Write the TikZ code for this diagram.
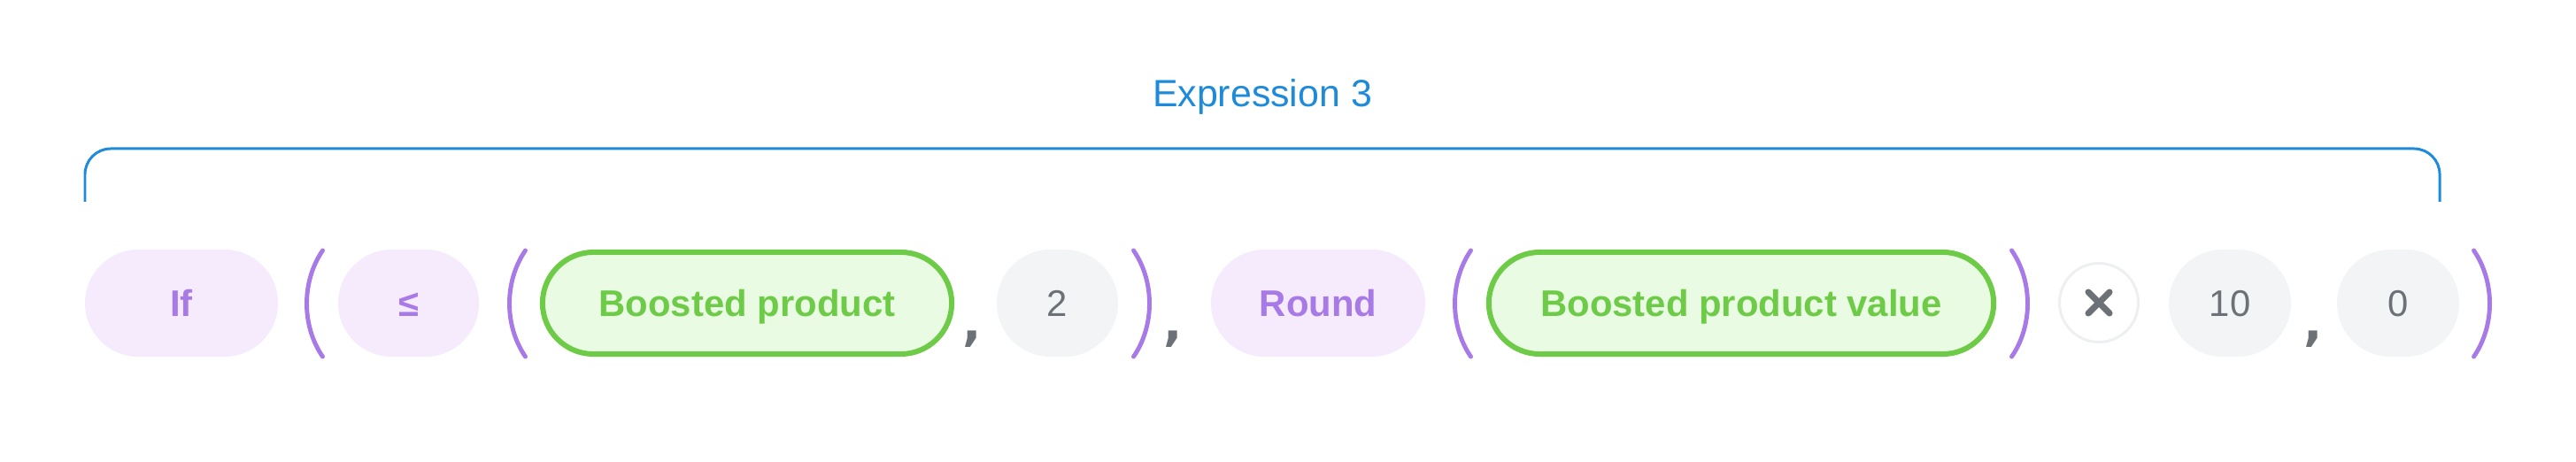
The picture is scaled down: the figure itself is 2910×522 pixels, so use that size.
\documentclass[tikz,border=0pt]{standalone}
\usepackage{fontspec}
\setmainfont{Liberation Sans}
\newfontfamily\commafont{DejaVu Sans}
\usepackage{tikz}
\definecolor{exprblue}{HTML}{1E8BDA}
\definecolor{fnpurple}{HTML}{A87AE8}
\definecolor{fnfill}{HTML}{F5EBFD}
\definecolor{fieldgreen}{HTML}{6DCB47}
\definecolor{fieldfill}{HTML}{E9FBE3}
\definecolor{numfill}{HTML}{F3F4F6}
\definecolor{numgrey}{HTML}{6C7177}
\definecolor{ringgrey}{HTML}{EEEFF1}
\newcommand{\tokfont}{\fontsize{11.9}{14}\selectfont}
\tikzset{
	token/.style={rectangle, inner sep=0pt, minimum height=1.21cm, rounded corners=0.605cm, text height=8.5pt, text depth=0pt},
	fntok/.style={token, fill=fnfill, text=fnpurple, font=\tokfont\bfseries},
	fieldtok/.style={token, draw=fieldgreen, line width=1.7pt, fill=fieldfill, text=fieldgreen, minimum height=1.15cm, rounded corners=0.575cm, font=\tokfont\bfseries},
	numtok/.style={token, fill=numfill, text=numgrey, font=\tokfont},
	optok/.style={circle, inner sep=0pt, draw=ringgrey, line width=0.85pt, fill=white, minimum size=0.89cm},
	paren/.style={fnpurple, line width=1.4pt, line cap=round},
	sep/.style={text=numgrey, inner sep=0pt, anchor=base, font=\commafont\fontsize{16}{16}\selectfont\bfseries},
	bracket/.style={exprblue, line width=0.85pt, rounded corners=0.29cm},
	title/.style={text=exprblue, inner sep=0pt, text height=8.7pt, text depth=0pt, font=\fontsize{12.2}{14}\selectfont},
}
\begin{document}
\begin{tikzpicture}[x=0.01cm, y=-0.01cm]
				\useasboundingbox (0,0) rectangle (2910,522);
				\node[title] (expr) at (1426,105) {Expression 3};
				\draw[bracket] (96,228) |- (2756,168) -- (2756,228);
				\node[fntok, minimum width=2.18cm] (iffn) at (205,342.5) {If};
				\node[fntok, minimum width=1.59cm] (lefn) at (461.5,342.5) {≤};
				\node[fieldtok, minimum width=4.62cm] (boosted) at (844,342.5) {Boosted product};
				\node[numtok, minimum width=1.37cm] (two) at (1194.5,342.5) {2};
				\node[fntok, minimum width=2.42cm] (roundfn) at (1489,342.5) {Round};
				\node[fieldtok, minimum width=5.70cm] (boostedval) at (1967,342.5) {Boosted product value};
				\node[optok] (mul) at (2371,342) {};
				\node[numtok, minimum width=1.38cm] (ten) at (2519,342.5) {10};
				\node[numtok, minimum width=1.38cm] (zero) at (2709,342.5) {0};
				\draw[numgrey, line width=2pt, line cap=round] ([shift={(-12,-12)}]mul.center) -- ([shift={(12,12)}]mul.center);
				\draw[numgrey, line width=2pt, line cap=round] ([shift={(-12,12)}]mul.center) -- ([shift={(12,-12)}]mul.center);
				\node[sep] (sepa) at (1098,385) {,};
				\node[sep] (sepb) at (1325,385) {,};
				\node[sep] (sepc) at (2613,385) {,};
				\foreach \px in {364.5, 593.5, 1661.5}
					\draw[paren] (\px,283) .. controls (\px-24,318) and (\px-24,368) .. (\px,403);
				\foreach \px in {1280.5, 2272.5, 2794.5}
					\draw[paren] (\px,283) .. controls (\px+24,318) and (\px+24,368) .. (\px,403);
			\end{tikzpicture}
\end{document}
